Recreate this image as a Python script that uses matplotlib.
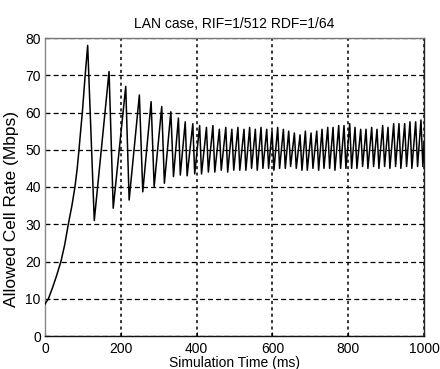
import matplotlib
matplotlib.use("Agg")
import matplotlib.pyplot as plt

# ---- data ----
time_ms = [0, 9, 20, 30, 42, 52, 61.5, 71, 79, 85, 89.7, 94, 98.5, 106, 112.6,
           130, 169, 180, 213, 222, 249, 258, 280, 288, 308, 315, 332, 339,
           352, 357, 370, 375, 390, 395, 408, 413, 426, 431, 443, 448,
           460, 465, 477, 482, 493, 498, 509, 514, 525, 530, 540, 545,
           555, 560, 570, 575, 585, 590, 599, 604, 614, 619, 629, 634,
           643, 648, 658, 663, 673, 678, 687, 692, 702, 707, 717, 722,
           731, 736, 746, 751, 760, 765, 775, 780, 789, 794, 804, 809,
           818, 823, 833, 838, 847, 852, 862, 867, 876, 881, 891, 896,
           905, 910, 920, 925, 934, 939, 949, 954, 963, 968, 978, 983,
           992, 997, 1000]
acr_mbps = [8.6, 10, 13, 16, 20, 24.5, 30, 35, 40, 45, 50, 55, 60, 70, 78,
            31, 71, 34.3, 67, 36.5, 64.7, 38.7, 62.9, 40.1, 61.6, 41, 60.2, 42.8,
            58.5, 43.2, 57.5, 43.0, 57.0, 43.5, 56.5, 43.5, 56.0, 44.0, 56.5, 44.0,
            55.5, 44.5, 56.0, 44.0, 55.5, 44.5, 56.0, 44.5, 55.5, 44.5, 56.0, 45.0,
            55.5, 44.5, 56.0, 45.0, 55.5, 45.0, 55.0, 44.5, 56.0, 45.0, 55.5, 45.0,
            55.0, 45.5, 54.5, 45.0, 54.0, 44.5, 55.0, 44.5, 54.5, 45.0, 55.0, 44.5,
            55.5, 45.0, 56.0, 45.0, 56.0, 44.5, 56.5, 45.0, 56.5, 45.0, 57.0, 45.0,
            56.0, 45.0, 55.5, 45.5, 55.5, 45.0, 56.0, 45.5, 55.5, 45.0, 56.5, 45.5,
            56.0, 45.0, 57.0, 45.5, 57.0, 45.0, 57.0, 45.5, 57.5, 45.0, 57.5, 45.5,
            58.0, 45.5, 52.0]
x_ticks = [0, 200, 400, 600, 800, 1000]
y_ticks = [0, 10, 20, 30, 40, 50, 60, 70, 80]
title = "LAN case, RIF=1/512 RDF=1/64"
x_label = "Simulation Time (ms)"
y_label = "Allowed Cell Rate (Mbps)"

plt.rcParams['font.family'] = ['Liberation Sans', 'DejaVu Sans']

fig = plt.figure(figsize=(4.4, 3.69), dpi=100)
ax = fig.add_axes([45/440, 1-336/369, (424-45)/440, (336-38)/369])

ax.plot(time_ms, acr_mbps, color='black', lw=1.1, zorder=3)

ax.set_xlim(0, 1000)
ax.set_ylim(0, 80)
ax.set_xticks(x_ticks)
ax.set_yticks(y_ticks)
ax.tick_params(direction='in', length=3, labelsize=10, colors='black', pad=4)
ax.tick_params(axis='y', pad=3)

ax.yaxis.grid(True, color='black', linestyle=(0, (4, 2.5)), linewidth=0.9)
ax.xaxis.grid(True, color='black', linestyle=(0, (2, 2.2)), linewidth=1.1)
ax.set_axisbelow(True)

ax.set_title(title, fontsize=10, pad=7)
ax.set_xlabel(x_label, fontsize=10, labelpad=0)
ax.set_ylabel(y_label, fontsize=12.5)
ax.yaxis.set_label_coords(-0.069, 0.426)

ax.spines['left'].set_color('#888888')
ax.spines['top'].set_color('#777777')
ax.spines['right'].set_color('#222222')
ax.spines['bottom'].set_color('#111111')
for s in ax.spines.values():
    s.set_linewidth(1.0)

fig.savefig("out.png", dpi=100)
